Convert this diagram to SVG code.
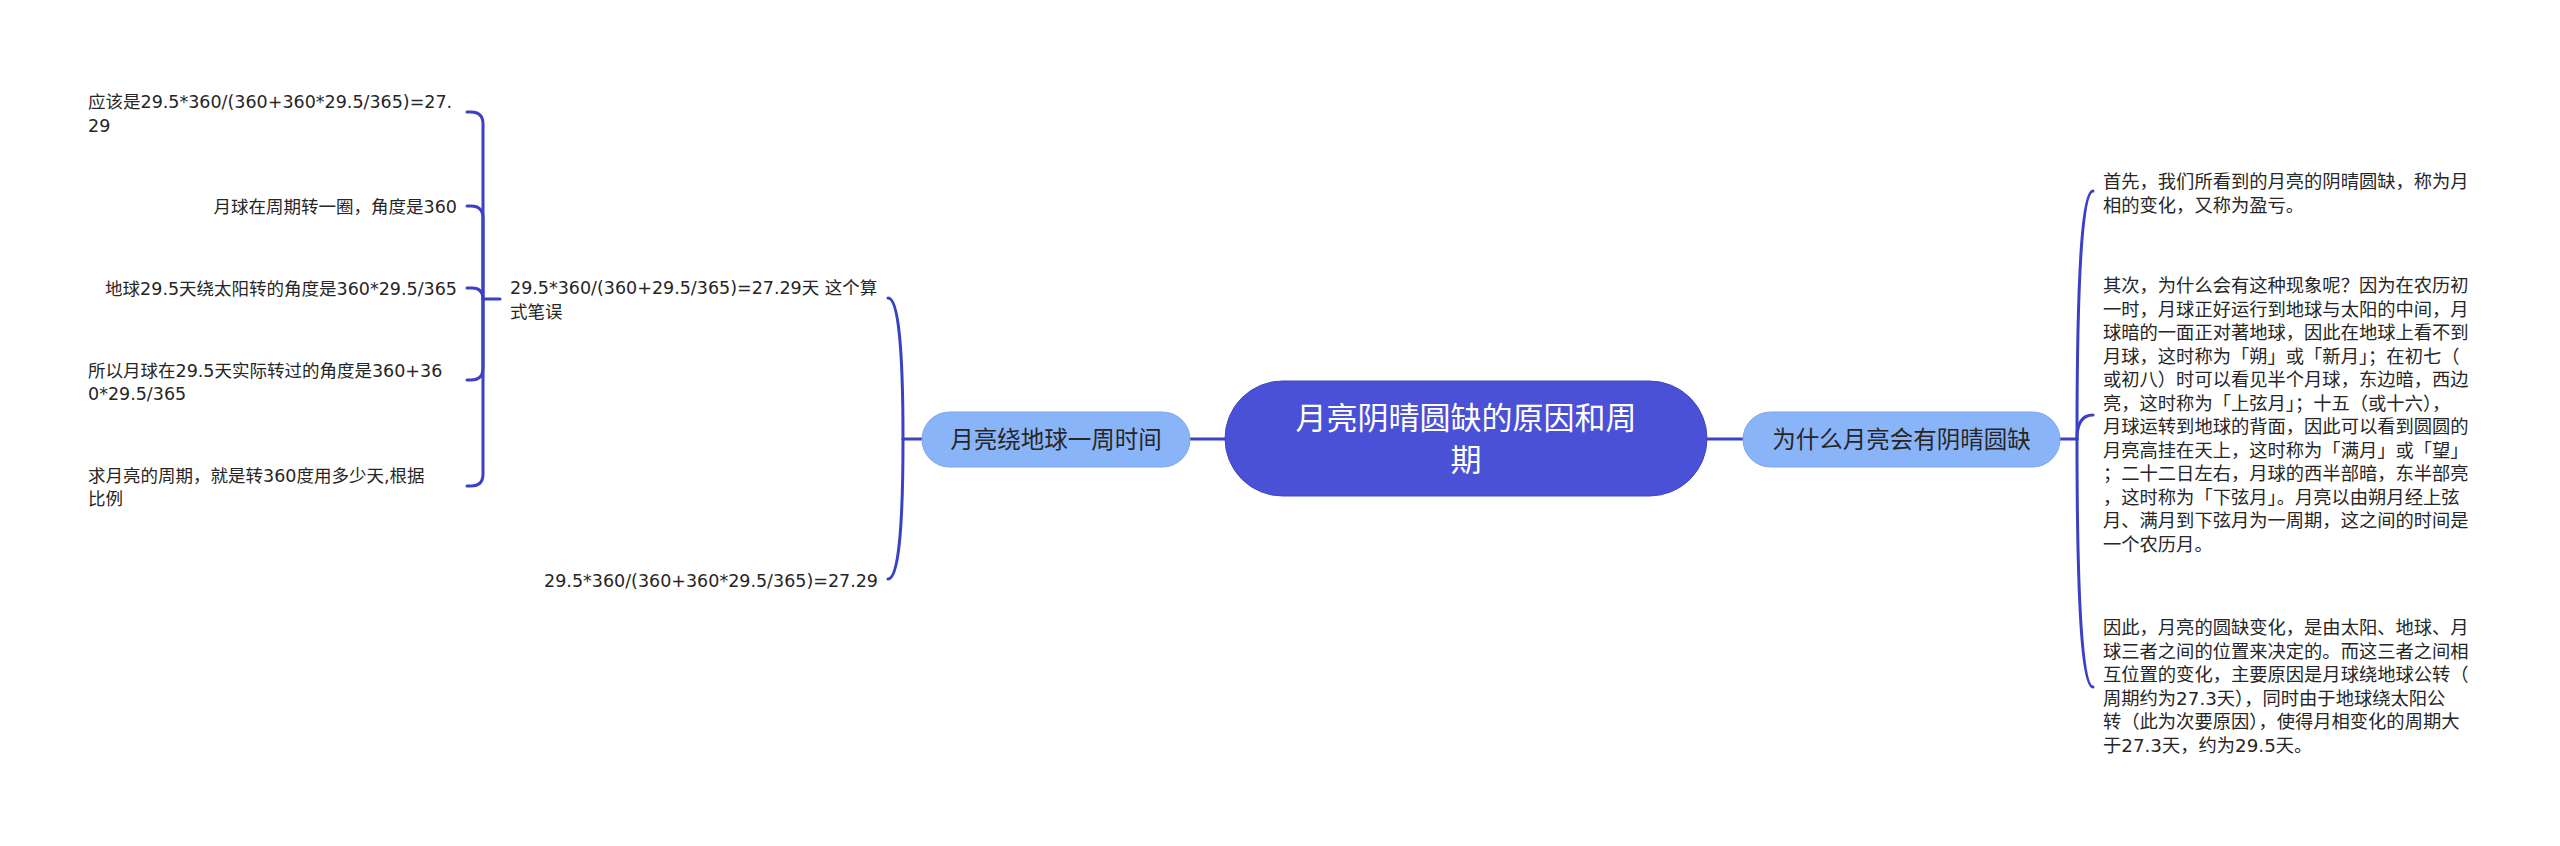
<svg xmlns="http://www.w3.org/2000/svg" width="2560" height="846" viewBox="0 0 2560 846">
<style>
.bg{fill:#ffffff}
.conn{fill:none;stroke:#3b41c5;stroke-width:3;stroke-linecap:round}
.root{fill:#4a51d7;stroke:#3f45c6;stroke-width:1}
.sub{fill:#8ab4f8;stroke:#7aa6ee;stroke-width:1}
.rootT{font-family:"Noto Sans CJK SC","Noto Sans",sans-serif;font-size:31px;fill:#ffffff;text-anchor:middle}
.subT{font-family:"Noto Sans CJK SC","Noto Sans",sans-serif;font-size:23.5px;fill:#262626;text-anchor:middle}
.leaf{font-family:"DejaVu Sans","Noto Sans CJK SC",sans-serif;font-size:17.5px;fill:#262626}
.para{font-family:"DejaVu Sans","Noto Sans CJK SC",sans-serif;font-size:18.3px;fill:#262626}
.end{text-anchor:end}
</style>
<rect class="bg" x="0" y="0" width="2560" height="846"/>

<g id="connectors">
  <path class="conn" d="M1190 439 H1225"/>
  <path class="conn" d="M1707 439 H1743"/>
  <path class="conn" d="M922 439 H903"/>
  <path class="conn" d="M903 439 Q903 298 888 298"/>
  <path class="conn" d="M903 439 Q903 579 888 579"/>
  <path class="conn" d="M500 299 H483"/>
  <path class="conn" d="M483 299 V124 Q483 112 471 112 H467"/>
  <path class="conn" d="M483 299 V218 Q483 206 471 206 H467"/>
  <path class="conn" d="M483 299 Q483 288 472 288 H467"/>
  <path class="conn" d="M483 299 V368 Q483 380 471 380 H467"/>
  <path class="conn" d="M483 299 V474 Q483 486 471 486 H467"/>
  <path class="conn" d="M2060 439 H2077"/>
  <path class="conn" d="M2077 439 Q2077 191 2093 191"/>
  <path class="conn" d="M2077 439 Q2077 415 2093 415"/>
  <path class="conn" d="M2077 439 Q2077 687 2093 687"/>
</g>

<g id="root">
  <rect class="root" x="1225" y="381" width="482" height="115" rx="57.5"/>
  <text class="rootT" x="1466" y="429">月亮阴晴圆缺的原因和周</text>
  <text class="rootT" x="1466" y="471">期</text>
</g>

<g id="node-left">
  <rect class="sub" x="922" y="412" width="268" height="55" rx="27.5"/>
  <text class="subT" x="1056" y="447.5">月亮绕地球一周时间</text>
</g>

<g id="node-right">
  <rect class="sub" x="1743" y="412" width="317" height="55" rx="27.5"/>
  <text class="subT" x="1901.5" y="447.5">为什么月亮会有阴晴圆缺</text>
</g>

<g id="node-wrong">
  <text class="leaf" x="510" y="294">29.5*360/(360+29.5/365)=27.29天 这个算</text>
  <text class="leaf" x="510" y="318">式笔误</text>
</g>

<g id="node-correct">
  <text class="leaf end" x="878" y="586.5">29.5*360/(360+360*29.5/365)=27.29</text>
</g>

<g id="leaf-1">
  <text class="leaf" x="88" y="108">应该是29.5*360/(360+360*29.5/365)=27.</text>
  <text class="leaf" x="88" y="131.5">29</text>
</g>
<g id="leaf-2">
  <text class="leaf end" x="457" y="213">月球在周期转一圈，角度是360</text>
</g>
<g id="leaf-3">
  <text class="leaf end" x="457" y="295">地球29.5天绕太阳转的角度是360*29.5/365</text>
</g>
<g id="leaf-4">
  <text class="leaf" x="88" y="376.5">所以月球在29.5天实际转过的角度是360+36</text>
  <text class="leaf" x="88" y="400">0*29.5/365</text>
</g>
<g id="leaf-5">
  <text class="leaf" x="88" y="481.5">求月亮的周期，就是转360度用多少天,根据</text>
  <text class="leaf" x="88" y="505">比例</text>
</g>

<g id="para-1">
  <text class="para" x="2103" y="188">首先，我们所看到的月亮的阴晴圆缺，称为月</text>
  <text class="para" x="2103" y="211.5">相的变化，又称为盈亏。</text>
</g>
<g id="para-2">
  <text class="para" x="2103" y="292">其次，为什么会有这种现象呢？因为在农历初</text>
  <text class="para" x="2103" y="315.5">一时，月球正好运行到地球与太阳的中间，月</text>
  <text class="para" x="2103" y="339">球暗的一面正对著地球，因此在地球上看不到</text>
  <text class="para" x="2103" y="362.5">月球，这时称为「朔」或「新月」；在初七（</text>
  <text class="para" x="2103" y="386">或初八）时可以看见半个月球，东边暗，西边</text>
  <text class="para" x="2103" y="409.5">亮，这时称为「上弦月」；十五（或十六），</text>
  <text class="para" x="2103" y="433">月球运转到地球的背面，因此可以看到圆圆的</text>
  <text class="para" x="2103" y="456.5">月亮高挂在天上，这时称为「满月」或「望」</text>
  <text class="para" x="2103" y="480">；二十二日左右，月球的西半部暗，东半部亮</text>
  <text class="para" x="2103" y="503.5">，这时称为「下弦月」。月亮以由朔月经上弦</text>
  <text class="para" x="2103" y="527">月、满月到下弦月为一周期，这之间的时间是</text>
  <text class="para" x="2103" y="550.5">一个农历月。</text>
</g>
<g id="para-3">
  <text class="para" x="2103" y="634">因此，月亮的圆缺变化，是由太阳、地球、月</text>
  <text class="para" x="2103" y="657.5">球三者之间的位置来决定的。而这三者之间相</text>
  <text class="para" x="2103" y="681">互位置的变化，主要原因是月球绕地球公转（</text>
  <text class="para" x="2103" y="704.5">周期约为27.3天），同时由于地球绕太阳公</text>
  <text class="para" x="2103" y="728">转（此为次要原因），使得月相变化的周期大</text>
  <text class="para" x="2103" y="751.5">于27.3天，约为29.5天。</text>
</g>
</svg>
